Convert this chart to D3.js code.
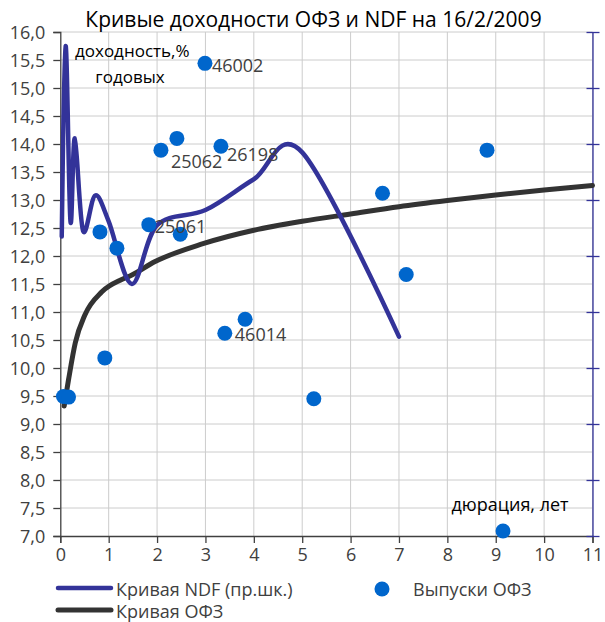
<!DOCTYPE html>
<html><head><meta charset="utf-8">
<script src="https://cdn.jsdelivr.net/npm/d3@7"></script>
<style>
body{margin:0;background:#fff;}
svg text{font-family:"Open Sans","Noto Sans",sans-serif;}
</style></head><body>
<svg id="chart" width="605" height="622"></svg>
<script>
// ---------- data ----------
const titleText = "Кривые доходности ОФЗ и NDF на 16/2/2009";
const xTickValues = [0,1,2,3,4,5,6,7,8,9,10,11];
const yTickValues = [7,7.5,8,8.5,9,9.5,10,10.5,11,11.5,12,12.5,13,13.5,14,14.5,15,15.5,16];
const rightTickValues = [7,8,9,10,11,12,13,14,15,16];

// Выпуски ОФЗ (duration, yield, label)
const bondDuration = [0.065,0.17,0.92,0.82,1.17,1.83,2.48,2.08,2.41,2.99,3.32,3.40,3.82,5.24,6.66,7.15,8.82,9.15];
const bondYield    = [9.49,9.48,10.18,12.43,12.14,12.56,12.39,13.89,14.10,15.44,13.96,10.62,10.87,9.45,13.12,11.67,13.89,7.09];
const bondLabel    = ["","","","","","25061","","25062","","46002","26198","46014","","","","","",""];

// Кривая NDF (right axis)
const ndfTenor = [0.03,0.11,0.21,0.30,0.47,0.72,1.0,1.48,2.0,3.0,4.0,5.0,7.0];
const ndfRate  = [12.35,15.75,12.62,14.10,12.45,13.08,12.62,11.50,12.55,12.82,13.37,13.85,10.56];

// Кривая ОФЗ
const curveDur   = [0.08,0.17,0.31,0.51,0.86,1.27,1.48,1.96,2.95,4.0,5.0,6.0,7.0,8.0,9.0,10.0,11.0];
const curveYield = [9.32,9.79,10.45,10.95,11.36,11.58,11.66,11.90,12.22,12.46,12.62,12.75,12.88,12.99,13.09,13.18,13.26];

const legendNames = ["Кривая NDF (пр.шк.)","Кривая ОФЗ","Выпуски ОФЗ"];
const yAxisNote = ["доходность,%","годовых"];
const xAxisNote = "дюрация, лет";

// ---------- layout ----------
const L = 60.3, R = 592.5, T = 32, B = 536;
const ndfColor = "#333399", ofzColor = "#333333", dotColor = "#0066CC";
const gridColor = "#cccccc", axisColor = "#404040", textColor = "#404040";
const labelOffset = {"25061":[6,8],"25062":[10,18],"46002":[7,9],"26198":[6,15],"46014":[10,8]};

const svg = d3.select("#chart");
const x = d3.scaleLinear().domain([0,11]).range([L,R]);
const y = d3.scaleLinear().domain([7,16]).range([B,T]);
const y2 = d3.scaleLinear().domain([7,16]).range([B,T]);
const fmt = v => d3.format(".1f")(v).replace(".", ",");

// grid
svg.append("g").selectAll("line.h").data(yTickValues.filter(v=>v>7)).join("line")
  .attr("x1",L).attr("x2",R).attr("y1",d=>y(d)).attr("y2",d=>y(d))
  .attr("stroke",gridColor).attr("stroke-width",1);
svg.append("g").selectAll("line.v").data(xTickValues.filter(v=>v>0)).join("line")
  .attr("x1",d=>x(d)).attr("x2",d=>x(d)).attr("y1",T).attr("y2",B)
  .attr("stroke",gridColor).attr("stroke-width",1);

// left axis
const gy = svg.append("g").attr("transform",`translate(${L},0)`)
  .call(d3.axisLeft(y).tickValues(yTickValues).tickFormat(fmt).tickSize(7).tickPadding(8));
gy.select(".domain").attr("stroke",axisColor).attr("stroke-width",1.3);
gy.selectAll(".tick line").attr("stroke",axisColor).attr("stroke-width",1.3);
gy.selectAll(".tick text").attr("fill",textColor).style("font-size","18px").attr("dy","0.36em");

// bottom axis
const gx = svg.append("g").attr("transform",`translate(0,${B})`)
  .call(d3.axisBottom(x).tickValues(xTickValues).tickFormat(d3.format("d")).tickSize(7).tickPadding(5));
gx.select(".domain").attr("stroke",axisColor).attr("stroke-width",1.3);
gx.selectAll(".tick line").attr("stroke",axisColor).attr("stroke-width",1.3);
gx.selectAll(".tick text").attr("fill",textColor).style("font-size","18px");

// right axis
const gr = svg.append("g").attr("transform",`translate(${R},0)`)
  .call(d3.axisRight(y2).tickValues(rightTickValues).tickFormat("").tickSize(7).tickSizeOuter(0));
gr.select(".domain").attr("stroke",ndfColor).attr("stroke-width",1.3);
gr.selectAll(".tick line").attr("stroke",ndfColor).attr("stroke-width",1.3).attr("x1",-6);

// OFZ curve
const ofzPts = curveDur.map((d,i)=>[d,curveYield[i]]);
svg.append("path").datum(ofzPts)
  .attr("d", d3.line().x(d=>x(d[0])).y(d=>y(d[1])).curve(d3.curveMonotoneX))
  .attr("fill","none").attr("stroke",ofzColor).attr("stroke-width",5).attr("stroke-linecap","round");

// NDF curve
const ndfPts = ndfTenor.map((d,i)=>[d,ndfRate[i]]);
svg.append("path").datum(ndfPts)
  .attr("d", d3.line().x(d=>x(d[0])).y(d=>y2(d[1])).curve(d3.curveCardinal.tension(0)))
  .attr("fill","none").attr("stroke",ndfColor).attr("stroke-width",4.5).attr("stroke-linecap","round").attr("stroke-linejoin","round");

// bonds
const bonds = bondDuration.map((d,i)=>({d, y:bondYield[i], l:bondLabel[i]}));
svg.append("g").selectAll("circle").data(bonds).join("circle")
  .attr("cx",d=>x(d.d)).attr("cy",d=>y(d.y)).attr("r",7.5).attr("fill",dotColor);
svg.append("g").selectAll("text").data(bonds.filter(b=>b.l)).join("text")
  .attr("x",d=>x(d.d)+labelOffset[d.l][0]).attr("y",d=>y(d.y)+labelOffset[d.l][1])
  .text(d=>d.l).attr("fill",textColor).style("font-size","18px");

// title
svg.append("text").attr("x",313.5).attr("y",27).attr("text-anchor","middle")
  .style("font-size","21px").attr("fill","#000").text(titleText);

// notes
svg.append("text").attr("x",75).attr("y",57).style("font-size","17px").attr("fill","#000").text(yAxisNote[0]);
svg.append("text").attr("x",130).attr("y",83).attr("text-anchor","middle").style("font-size","17px").attr("fill","#000").text(yAxisNote[1]);
svg.append("text").attr("x",510).attr("y",511).attr("text-anchor","middle").style("font-size","18px").attr("fill","#000").text(xAxisNote);

// legend
const lg = svg.append("g");
lg.append("line").attr("x1",58).attr("x2",111).attr("y1",588).attr("y2",588)
  .attr("stroke",ndfColor).attr("stroke-width",4.5).attr("stroke-linecap","round");
lg.append("text").attr("x",116).attr("y",596).style("font-size","18px").attr("fill",textColor).text(legendNames[0]);
lg.append("line").attr("x1",58).attr("x2",111).attr("y1",610).attr("y2",610)
  .attr("stroke",ofzColor).attr("stroke-width",5).attr("stroke-linecap","round");
lg.append("text").attr("x",116).attr("y",618).style("font-size","18px").attr("fill",textColor).text(legendNames[1]);
lg.append("circle").attr("cx",382).attr("cy",589).attr("r",7.5).attr("fill",dotColor);
lg.append("text").attr("x",413).attr("y",596).style("font-size","18px").attr("fill",textColor).text(legendNames[2]);
</script>
</body></html>
